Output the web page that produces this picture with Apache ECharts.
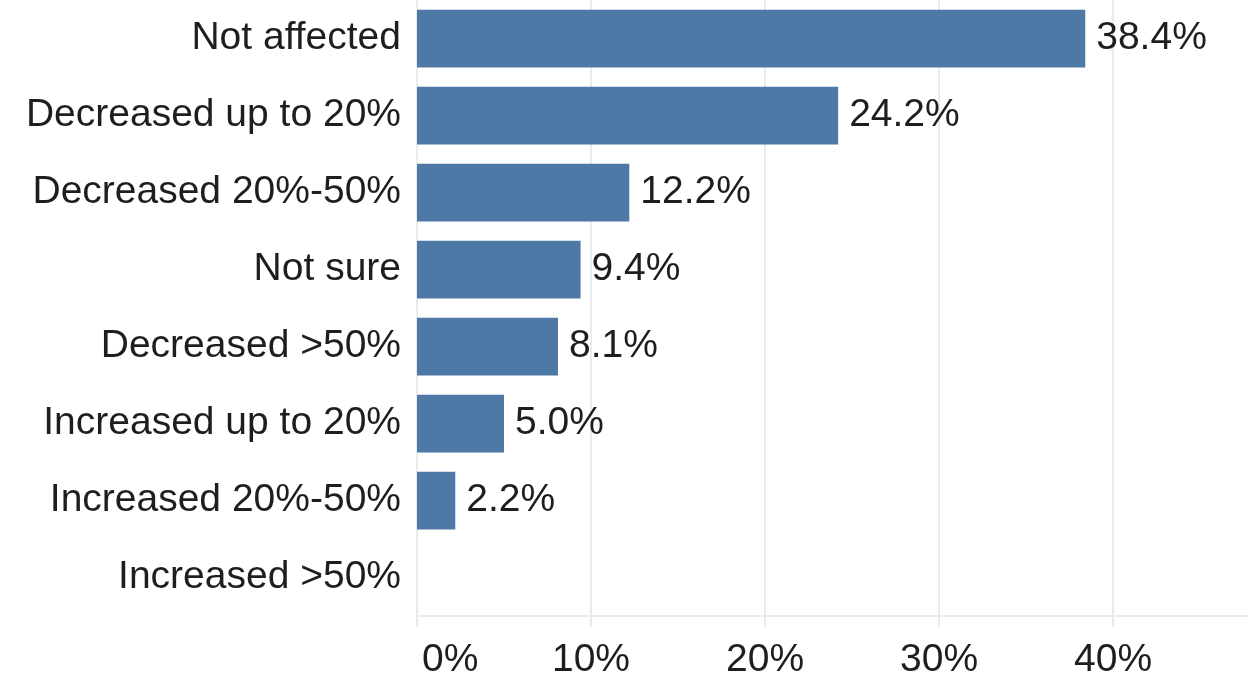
<!DOCTYPE html>
<html>
<head>
<meta charset="utf-8">
<style>html,body{margin:0;padding:0;background:#fff;}#c{width:1248px;height:674px;}</style>
<script src="https://cdn.jsdelivr.net/npm/echarts@6/dist/echarts.min.js"></script>
</head>
<body>
<div id="c"></div>
<script>
const categories = ["Not affected","Decreased up to 20%","Decreased 20%-50%","Not sure","Decreased >50%","Increased up to 20%","Increased 20%-50%","Increased >50%"];
const values = [38.4, 24.2, 12.2, 9.4, 8.1, 5.0, 2.2, 0];
const xTicks = [0, 10, 20, 30, 40];

const chart = echarts.init(document.getElementById('c'), null, {renderer: 'canvas'});
const font = "'Liberation Sans', Arial, sans-serif";
const txt = {fontSize: 39, color: '#1e1e1e', fontFamily: font};
chart.setOption({
  animation: false,
  grid: {left: 417, top: 0, width: 844, height: 616, containLabel: false, outerBoundsMode: 'none'},
  xAxis: {
    type: 'value', min: 0, max: 48.5, interval: 10,
    axisLine: {show: true, lineStyle: {color: '#ebebeb', width: 2}},
    axisTick: {show: true, length: 11, lineStyle: {color: '#ebebeb', width: 2}},
    splitLine: {show: true, lineStyle: {color: '#ebebeb', width: 2}},
    axisLabel: Object.assign({
      margin: 25, alignMinLabel: 'left', showMaxLabel: false,
      formatter: v => v === 0 ? '{z|0%}' : (xTicks.indexOf(v) >= 0 ? v + '%' : ''),
      rich: {z: Object.assign({padding: [0, 0, 0, 5]}, txt)}
    }, txt)
  },
  yAxis: {
    type: 'category', data: categories, inverse: true,
    axisLine: {show: false}, axisTick: {show: false},
    axisLabel: Object.assign({margin: 16}, txt)
  },
  series: [{
    type: 'bar', data: values, barCategoryGap: '25%',
    itemStyle: {color: '#4e78a6'},
    label: Object.assign({
      show: true, position: 'right', distance: 11,
      formatter: p => p.value > 0 ? p.value.toFixed(1) + '%' : ''
    }, txt)
  }]
});
</script>
</body>
</html>
